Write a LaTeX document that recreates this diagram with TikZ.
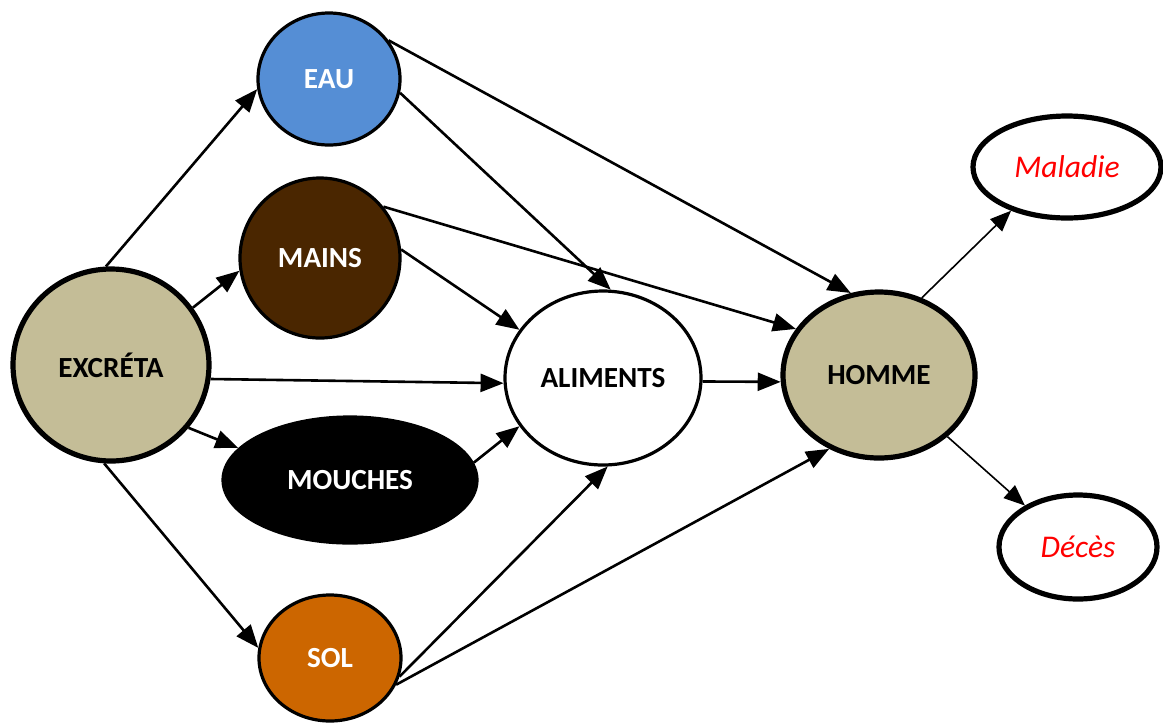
\documentclass[tikz,border=0pt]{standalone}
\usepackage{fontspec}
\setmainfont{Carlito}
\usetikzlibrary{shapes.geometric,arrows.meta}
\definecolor{tan}{HTML}{C4BD97}
\definecolor{eaublue}{HTML}{558ED5}
\definecolor{brownm}{HTML}{4A2600}
\definecolor{solor}{HTML}{CC6600}
\begin{document}
\begin{tikzpicture}[x=0.5pt,y=-0.5pt,
  blob/.style={ellipse,inner sep=0pt,font=\fontsize{14.6}{17}\selectfont\bfseries},
  thickb/.style={blob,draw=black,line width=2.6pt},
  thinb/.style={blob,draw=black,line width=1.6pt},
  outc/.style={ellipse,inner sep=0pt,draw=black,line width=2.6pt,fill=white,text=red,font=\fontsize{15.8}{18}\selectfont\itshape},
  arr/.style={-{Triangle[length=11.5pt,width=9pt]},line width=1.3pt},
  tarr/.style={-{Triangle[length=10.5pt,width=8.5pt]},line width=0.8pt}]
\useasboundingbox (0,0) rectangle (1163,725);
\node[thickb,fill=tan,minimum width=98pt,minimum height=96pt] (ex) at (111,365) {EXCRÉTA};
\node[thinb,fill=eaublue,text=white,minimum width=71pt,minimum height=66pt] (eau) at (329,79) {EAU};
\node[thinb,fill=brownm,text=white,minimum width=80pt,minimum height=80pt] (mains) at (320,258) {MAINS};
\node[thinb,fill=black,text=white,minimum width=127pt,minimum height=63pt] (mou) at (350,480) {MOUCHES};
\node[thinb,fill=solor,text=white,minimum width=71pt,minimum height=63pt] (sol) at (330,658) {SOL};
\node[thinb,fill=white,minimum width=98pt,minimum height=87pt] (ali) at (603,378) {ALIMENTS};
\node[thickb,fill=tan,minimum width=96pt,minimum height=83pt] (hom) at (879,375) {HOMME};
\node[outc,minimum width=94pt,minimum height=51pt] (mal) at (1067,167) {Maladie};
\node[outc,minimum width=79pt,minimum height=52pt] (dec) at (1078,547) {Décès};
% from excreta
\draw[arr] (ex.93) -- (eau.188);
\draw[arr] (ex.35) -- (mains.189);
\draw[arr] (ex.-8.6) -- (ali.183);
\draw[arr] (ex.-39) -- (mou.164);
\draw[arr] (ex.-94) -- (sol.172);
% from eau
\draw[arr] (eau.33) -- (hom.109);
\draw[arr] (eau.-11) -- (ali.85);
% from mains
\draw[arr] (mains.39) -- (hom.151);
\draw[arr] (mains.6) -- (ali.150);
% from mouches
\draw[arr] (mou.8) -- (ali.210);
% from sol
\draw[arr] (sol.-15) -- (ali.273);
\draw[arr] (sol.-22.5) -- (hom.236);
% aliments -> homme
\draw[arr] (ali.-2) -- (hom.184);
% homme -> outcomes
\draw[tarr] (hom.61) -- (mal.218);
\draw[tarr] (hom.-42.5) -- (dec.142);
\end{tikzpicture}
\end{document}
